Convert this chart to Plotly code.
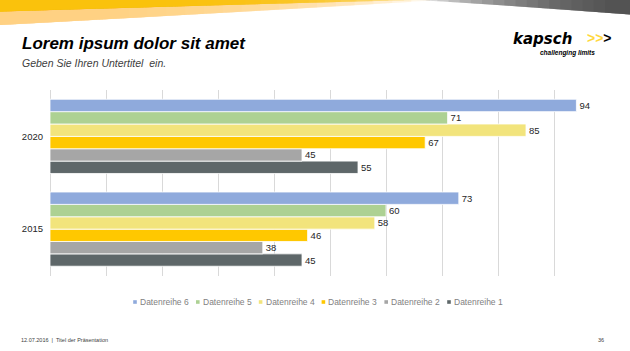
import plotly.graph_objects as go

W, H = 630, 351

# ---------------- data ----------------
categories = ["2015", "2020"]
series_names = ["Datenreihe 1", "Datenreihe 2", "Datenreihe 3",
                "Datenreihe 4", "Datenreihe 5", "Datenreihe 6"]
datenreihe_1 = [45, 55]
datenreihe_2 = [38, 45]
datenreihe_3 = [46, 67]
datenreihe_4 = [58, 85]
datenreihe_5 = [60, 71]
datenreihe_6 = [73, 94]
series_values = [datenreihe_1, datenreihe_2, datenreihe_3,
                 datenreihe_4, datenreihe_5, datenreihe_6]
series_colors = ["#5E6769", "#A6A6A6", "#FFC800",
                 "#F2E47C", "#ADD193", "#8FAADC"]

title_text = "Lorem ipsum dolor sit amet"
subtitle_text = "Geben Sie Ihren Untertitel  ein."
footer_left = "12.07.2016  |  Titel der Präsentation"
footer_right = "36"

FONT = "Liberation Sans, Arial, sans-serif"


def fx(x):
    return x / W


def fy(y):
    return 1 - y / H


def poly(points):
    s = "M " + " L ".join(f"{fx(x):.5f},{fy(y):.5f}" for x, y in points)
    return s + " Z"


fig = go.Figure()
for name, vals, col in zip(series_names, series_values, series_colors):
    fig.add_trace(go.Bar(
        y=categories, x=vals, name=name, orientation="h",
        marker=dict(color=col, line=dict(color="white", width=0.8)),
        text=vals, texttemplate="%{x}", textposition="outside",
        textfont=dict(family=FONT, size=9.5, color="#262626"),
        cliponaxis=False, showlegend=False, hoverinfo="x+name",
    ))

shapes = []
n = 18
# ---- decorative banner: light peach band (fading to the right) ----
for k in range(n):
    xr = 110 + k * 320 / (n - 1)
    pts = [(0, -1)]
    steps = 30
    for i in range(steps + 1):
        x = xr * i / steps
        y = 25 * max(0.0, 1 - x / 440) ** 0.95
        pts.append((x, y))
    pts.append((xr, -1))
    shapes.append(dict(type="path", path=poly(pts), xref="paper", yref="paper",
                       fillcolor="#FFD07A", line=dict(width=0), opacity=0.13, layer="below"))
# strong yellow band on top of it
for k in range(n):
    xr = 150 + k * 270 / (n - 1)
    pts = [(0, -1)]
    steps = 30
    for i in range(steps + 1):
        x = xr * i / steps
        y = 11.5 * max(0.0, 1 - x / 425) ** 1.1
        pts.append((x, y))
    pts.append((xr, -1))
    shapes.append(dict(type="path", path=poly(pts), xref="paper", yref="paper",
                       fillcolor="#F9C40A", line=dict(width=0), opacity=0.18, layer="below"))
# grey band on the right
for k in range(n):
    xl = 415 + k * 190 / (n - 1)
    pts = [(631, -1)]
    steps = 30
    for i in range(steps + 1):
        x = 631 - (631 - xl) * i / steps
        t = max(0.0, (x - 415) / 215)
        y = 14.5 * t ** 1.1
        pts.append((x, y))
    pts.append((xl, -1))
    shapes.append(dict(type="path", path=poly(pts), xref="paper", yref="paper",
                       fillcolor="#3A3A3A", line=dict(width=0), opacity=0.095, layer="below"))

# ---- manual legend (symbols + labels) ----
annotations = []
leg_x0, leg_pitch, leg_y = 135, 62.8, 302
for i, idx in enumerate(range(len(series_names) - 1, -1, -1)):
    cx = leg_x0 + i * leg_pitch
    s = 1.8
    shapes.append(dict(type="rect", xref="paper", yref="paper",
                       x0=fx(cx - s), x1=fx(cx + s), y0=fy(leg_y + s), y1=fy(leg_y - s),
                       fillcolor=series_colors[idx], line=dict(width=0)))
    annotations.append(dict(text=series_names[idx], x=fx(cx + 3), y=fy(leg_y),
                            xref="paper", yref="paper", xanchor="left", yanchor="middle",
                            showarrow=False,
                            font=dict(family=FONT, size=8.5, color="#7F7F7F")))

# ---- titles ----
annotations.append(dict(text=f"<b><i>{title_text}</i></b>", x=fx(20), y=fy(43.5),
                        xref="paper", yref="paper", xanchor="left", yanchor="middle",
                        showarrow=False, font=dict(family=FONT, size=17, color="#000000")))
annotations.append(dict(text=f"<i>{subtitle_text}</i>", x=fx(20), y=fy(63.5),
                        xref="paper", yref="paper", xanchor="left", yanchor="middle",
                        showarrow=False, font=dict(family=FONT, size=10.5, color="#404040")))

# ---- logo ----
annotations.append(dict(text="<b><i>kapsch</i></b>", x=fx(511), y=fy(38.5),
                        xref="paper", yref="paper", xanchor="left", yanchor="middle",
                        showarrow=False, font=dict(family="DejaVu Sans", size=15, color="#000000")))
annotations.append(dict(text="<b><span style='color:#FFD83C'>&gt;&gt;</span>&gt;</b>",
                        x=fx(585), y=fy(38),
                        xref="paper", yref="paper", xanchor="left", yanchor="middle",
                        showarrow=False, font=dict(family=FONT, size=14, color="#000000")))
annotations.append(dict(text="<b><i>challenging limits</i></b>", x=fx(597), y=fy(52.5),
                        xref="paper", yref="paper", xanchor="right", yanchor="middle",
                        showarrow=False, font=dict(family=FONT, size=6.5, color="#000000")))

# ---- footer ----
annotations.append(dict(text=footer_left, x=fx(19), y=fy(340),
                        xref="paper", yref="paper", xanchor="left", yanchor="middle",
                        showarrow=False, font=dict(family=FONT, size=5.5, color="#404040")))
annotations.append(dict(text=footer_right, x=fx(606), y=fy(340),
                        xref="paper", yref="paper", xanchor="right", yanchor="middle",
                        showarrow=False, font=dict(family=FONT, size=5.5, color="#404040")))

x_max = 98
fig.update_layout(
    width=W, height=H,
    margin=dict(l=0, r=0, t=0, b=0),
    paper_bgcolor="white", plot_bgcolor="white",
    barmode="group", bargap=0.2, bargroupgap=0,
    showlegend=False,
    shapes=shapes, annotations=annotations,
    xaxis=dict(domain=[fx(50), fx(50 + x_max * 5.6)], range=[0, x_max],
               dtick=10, tick0=0, showticklabels=False, ticks="",
               showgrid=True, gridcolor="#D9D9D9", gridwidth=1,
               zeroline=True, zerolinecolor="#D9D9D9", zerolinewidth=1,
               showline=False, fixedrange=True),
    yaxis=dict(domain=[fy(275.5), fy(90)], type="category",
               categoryorder="array", categoryarray=categories,
               ticks="", ticklabelstandoff=6, showgrid=False, zeroline=False,
               showline=False,
               tickfont=dict(family=FONT, size=9.5, color="#262626"),
               fixedrange=True),
    font=dict(family=FONT),
)

fig.write_html("out.html")
